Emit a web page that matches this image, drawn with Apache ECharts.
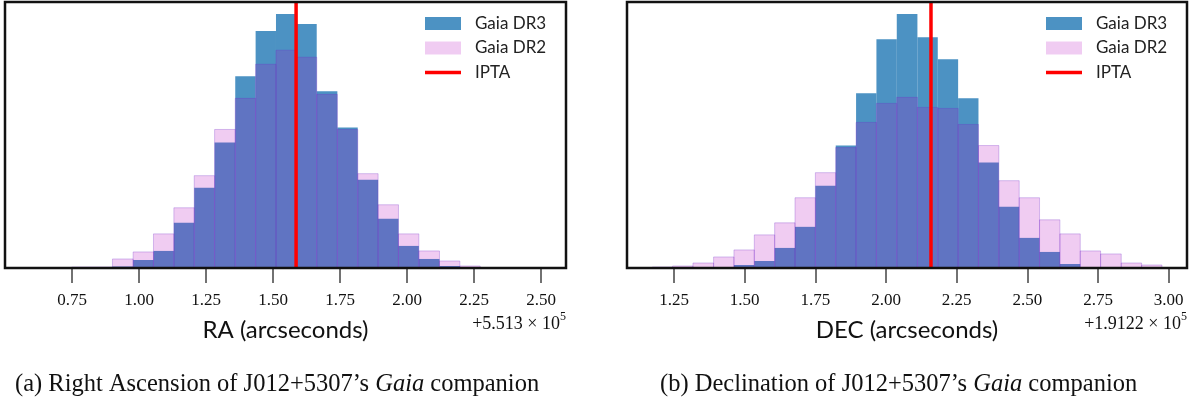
<!DOCTYPE html>
<html>
<head>
<meta charset="utf-8">
<script src="https://cdn.jsdelivr.net/npm/echarts@6/dist/echarts.min.js"></script>
<style>
  html, body { margin: 0; padding: 0; background: #ffffff; }
  #chart { width: 1195px; height: 400px; }
</style>
</head>
<body>
<div id="chart"></div>
<script>
// RA panel: shared bin edges (offset from 5.513e5 arcsec) and bar heights
const raEdges = [0.749, 0.825, 0.901, 0.978, 1.054, 1.130, 1.206, 1.282, 1.359, 1.435, 1.511,
  1.587, 1.663, 1.740, 1.816, 1.892, 1.968, 2.044, 2.121, 2.197, 2.273]
const raDr3 = [0, 0, 1.5, 8, 17, 45, 80, 125, 191, 236, 253, 243, 176, 140, 88, 49, 22, 9, 2, 0]
const raDr2 = [1, 1, 9, 16, 34, 60, 92, 138, 169, 203, 217, 210, 173, 138, 94, 63, 34, 17, 7, 2]
const raIpta = 1.586
const raTicks = [0.75, 1.0, 1.25, 1.5, 1.75, 2.0, 2.25, 2.5]

// DEC panel: bin edges (offset from 1.9122e5 arcsec) and bar heights
const decEdges = [1.173, 1.245, 1.317, 1.390, 1.462, 1.534, 1.606, 1.678, 1.750, 1.822, 1.894,
  1.966, 2.038, 2.111, 2.183, 2.255, 2.327, 2.399, 2.471, 2.543, 2.615, 2.687, 2.759, 2.832,
  2.904, 2.976]
const decDr3 = [0, 0, 0, 0, 3, 7, 20, 41, 82, 122, 174, 228, 253, 230, 208, 169, 105, 61, 30,
  16, 4, 1, 0, 0, 0]
const decDr2 = [1, 2, 5, 11, 18, 33, 45, 70, 95, 120, 145, 164, 170, 160, 159, 143, 122, 87, 70,
  48, 34, 17, 14, 5, 3]
const decIpta = 2.159
const decTicks = [1.25, 1.5, 1.75, 2.0, 2.25, 2.5, 2.75, 3.0]

const YMAX = 265
const DR3_COLOR = 'rgba(31,119,180,0.8)'
const DR2_COLOR = 'rgba(180,0,190,0.2)'
const SANS = 'Lato'
const SERIF = 'Liberation Serif'

const chart = echarts.init(document.getElementById('chart'))

const toBins = (edges, counts) =>
  counts.map((c, i) => [edges[i], edges[i + 1], c]).filter((d) => d[2] > 0)

const histSeries = (name, idx, edges, counts, color, edge) => ({
  name,
  type: 'custom',
  xAxisIndex: idx,
  yAxisIndex: idx,
  itemStyle: { color },
  encode: { x: [0, 1], y: 2 },
  data: toBins(edges, counts),
  renderItem: (params, api) => {
    const p0 = api.coord([api.value(0), 0])
    const p1 = api.coord([api.value(1), api.value(2)])
    return {
      type: 'rect',
      shape: { x: p0[0], y: p1[1], width: p1[0] - p0[0], height: p0[1] - p1[1] },
      style: { fill: color, stroke: edge, lineWidth: edge ? 0.8 : 0 },
    }
  },
})

// vertical IPTA position line, drawn from the axis scale
const iptaSeries = (idx, value) => ({
  name: 'IPTA',
  type: 'custom',
  xAxisIndex: idx,
  yAxisIndex: idx,
  z: 5,
  itemStyle: { color: '#ff0000' },
  encode: { x: 0, y: 1 },
  data: [[value, YMAX]],
  renderItem: (params, api) => {
    const top = api.coord([api.value(0), api.value(1)])
    const bottom = api.coord([api.value(0), 0])
    return {
      type: 'line',
      shape: { x1: top[0], y1: top[1], x2: bottom[0], y2: bottom[1] },
      style: { stroke: '#ff0000', lineWidth: 3.5 },
    }
  },
})

const xAxisFor = (idx, min, max, ticks, name) => ({
  type: 'value',
  gridIndex: idx,
  min,
  max,
  name,
  nameLocation: 'middle',
  nameGap: 50,
  nameTextStyle: { fontFamily: SANS, fontSize: 24, color: '#111' },
  splitLine: { show: false },
  axisLine: { show: false },
  axisTick: {
    show: true,
    customValues: ticks,
    length: 15,
    lineStyle: { color: '#444', width: 1.5 },
  },
  axisLabel: {
    customValues: ticks,
    margin: 24,
    fontFamily: SERIF,
    fontSize: 17,
    color: '#111',
    formatter: (v) => v.toFixed(2),
  },
})

const yAxisFor = (idx) => ({
  type: 'value',
  gridIndex: idx,
  min: 0,
  max: YMAX,
  show: false,
})

const legendFor = (left) => ({
  orient: 'vertical',
  left,
  top: 15,
  padding: 0,
  itemWidth: 36,
  itemHeight: 13,
  itemGap: 7.5,
  textStyle: {
    fontFamily: SANS,
    fontSize: 17,
    lineHeight: 17,
    color: '#222',
    padding: [0, 0, 0, 9],
  },
  data: [
    { name: 'Gaia DR3', icon: 'rect' },
    { name: 'Gaia DR2', icon: 'rect' },
    { name: 'IPTA', icon: 'path://M0,0 H36 V3.5 H0 Z' },
  ],
})

const offsetText = (right, mantissa) => ({
  type: 'text',
  right,
  top: 311,
  style: {
    text: '{a|+' + mantissa + ' × 10}{s|5}',
    rich: {
      a: { fontFamily: SERIF, fontSize: 18, fill: '#111', verticalAlign: 'bottom', lineHeight: 22 },
      s: { fontFamily: SERIF, fontSize: 12, fill: '#111', verticalAlign: 'top', lineHeight: 22, padding: [0, 0, 8, 0] },
    },
  },
})

const caption = (left, letter, what) => ({
  type: 'text',
  left,
  top: 372,
  style: {
    text: '{r|(' + letter + ') ' + what + ' of J012+5307’s }{i|Gaia}{r| companion}',
    rich: {
      r: { fontFamily: SERIF, fontSize: 24.5, fill: '#111' },
      i: { fontFamily: SERIF, fontSize: 24.5, fontStyle: 'italic', fill: '#111' },
    },
  },
})

chart.setOption({
  backgroundColor: '#ffffff',
  animation: false,
  grid: [
    { left: 5, top: 2, width: 561, height: 266, show: true, borderColor: '#111', borderWidth: 2.5, backgroundColor: 'transparent', z: 10 },
    { left: 627, top: 2, width: 560, height: 266, show: true, borderColor: '#111', borderWidth: 2.5, backgroundColor: 'transparent', z: 10 },
  ],
  xAxis: [
    xAxisFor(0, 0.5, 2.593, raTicks, 'RA (arcseconds)'),
    xAxisFor(1, 1.0837, 3.0646, decTicks, 'DEC (arcseconds)'),
  ],
  yAxis: [yAxisFor(0), yAxisFor(1)],
  legend: [legendFor(425), legendFor(1046)],
  series: [
    histSeries('Gaia DR3', 0, raEdges, raDr3, DR3_COLOR, null),
    histSeries('Gaia DR2', 0, raEdges, raDr2, DR2_COLOR, 'rgba(110,40,200,0.35)'),
    iptaSeries(0, raIpta),
    histSeries('Gaia DR3', 1, decEdges, decDr3, DR3_COLOR, null),
    histSeries('Gaia DR2', 1, decEdges, decDr2, DR2_COLOR, 'rgba(110,40,200,0.35)'),
    iptaSeries(1, decIpta),
  ],
  graphic: [
    offsetText(1195 - 566, '5.513'),
    offsetText(1195 - 1187, '1.9122'),
    caption(15, 'a', 'Right Ascension'),
    caption(660, 'b', 'Declination'),
  ],
})
</script>
</body>
</html>
